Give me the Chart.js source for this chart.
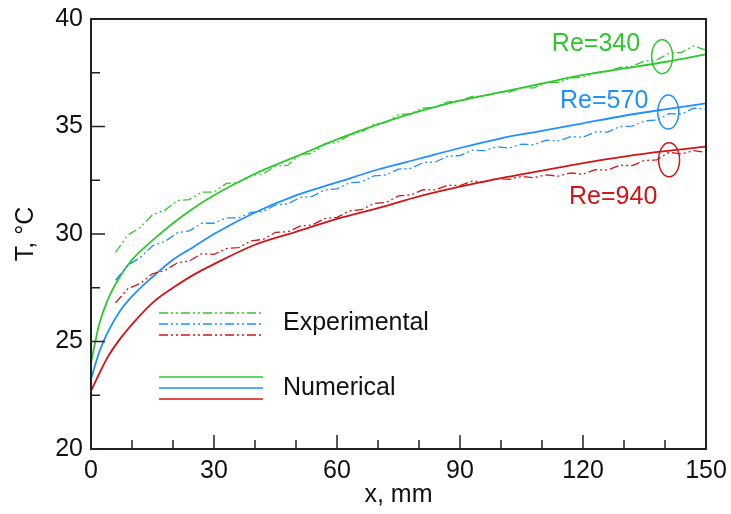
<!DOCTYPE html>
<html lang="en">
<head>
<meta charset="UTF-8">
<title>T vs x</title>
<script src="https://cdn.jsdelivr.net/npm/chart.js@4.4.1/dist/chart.umd.min.js"></script>
<style>
    html, body { margin: 0; padding: 0; background: #fff; }
    #wrap { width: 731px; height: 514px; }
</style>
</head>
<body>
<div id="wrap"><canvas id="chart" width="731" height="514"></canvas></div>
<script>
    // numerical solution, x in mm, T in degC
    const xNum = [0, 1, 2, 4, 7, 10, 15, 20, 25, 30, 40, 50, 60, 70, 80, 90, 100, 110, 120, 130, 140, 150];
    const numRe340 = [24.0, 24.95, 25.8, 26.9, 28.0, 28.8, 29.7, 30.5, 31.2, 31.8, 32.8, 33.6, 34.4, 35.1, 35.7, 36.2, 36.6, 37.0, 37.4, 37.7, 38.0, 38.36];
    const numRe570 = [23.25, 23.9, 24.5, 25.4, 26.4, 27.1, 28.0, 28.8, 29.4, 30.0, 31.0, 31.8, 32.4, 33.0, 33.5, 34.0, 34.45, 34.8, 35.15, 35.5, 35.8, 36.08];
    const numRe940 = [22.7, 23.1, 23.5, 24.25, 25.1, 25.8, 26.8, 27.5, 28.1, 28.6, 29.5, 30.1, 30.7, 31.2, 31.75, 32.2, 32.6, 32.95, 33.3, 33.6, 33.85, 34.06];

    // measured profiles
    const xExp = [6, 9, 12, 15, 18, 21, 24, 27, 30, 33, 36, 39, 42, 45, 48, 51, 54, 57, 60, 63, 66, 69, 72, 75, 78,
                  81, 84, 87, 90, 93, 96, 99, 102, 105, 108, 111, 114, 117, 120, 123, 126, 129, 132, 135, 138, 141, 144, 147, 150];
    const expRe340 = [29.15, 29.95, 30.3, 30.9, 31.1, 31.55, 31.6, 31.95, 31.95, 32.35, 32.4, 32.7, 32.8, 33.15, 33.2, 33.7, 33.75, 34.2, 34.25, 34.6, 34.75, 35.1, 35.2, 35.55, 35.6,
                      35.85, 35.9, 36.15, 36.2, 36.4, 36.4, 36.6, 36.6, 36.8, 36.8, 37.05, 37.05, 37.25, 37.3, 37.5, 37.55, 37.75, 37.8, 38.05, 38.1, 38.4, 38.45, 38.75, 38.55];
    const expRe570 = [27.85, 28.55, 28.9, 29.45, 29.65, 30.05, 30.15, 30.5, 30.5, 30.75, 30.75, 31.0, 31.05, 31.35, 31.4, 31.7, 31.75, 32.05, 32.1, 32.38, 32.42, 32.7, 32.75, 33.02, 33.05,
                      33.32, 33.35, 33.62, 33.65, 33.9, 33.88, 34.06, 34.0, 34.18, 34.15, 34.36, 34.33, 34.53, 34.5, 34.75, 34.74, 35.0, 35.02, 35.26, 35.3, 35.6, 35.58, 35.85, 35.82];
    const expRe940 = [26.8, 27.45, 27.7, 28.15, 28.3, 28.65, 28.75, 29.08, 29.05, 29.32, 29.37, 29.68, 29.75, 30.08, 30.1, 30.37, 30.42, 30.72, 30.77, 31.07, 31.13, 31.42, 31.47, 31.77, 31.82,
                      32.06, 32.05, 32.27, 32.25, 32.46, 32.43, 32.58, 32.54, 32.68, 32.62, 32.75, 32.69, 32.84, 32.78, 32.99, 32.98, 33.2, 33.18, 33.42, 33.45, 33.8, 33.72, 33.88, 33.8];

    const reLabels = ['Re=340', 'Re=570', 'Re=940'];
    const colors = ['#2ec82e', '#1e90ff', '#d01515'];
    // label anchor (left edge, middle) and circled region, in data units
    const labelAt = [[112.4, 38.84], [114.4, 36.17], [116.6, 31.70]];
    const ringAt = [[139.3, 38.25], [140.8, 35.67], [141.0, 33.45]];

    const xTicks = [0, 30, 60, 90, 120, 150];
    const yTicks = [20, 25, 30, 35, 40];

    const FONT = '"Liberation Sans", Arial, sans-serif';
    const dashExp = [9, 3, 2, 3, 2, 3];

    const pts = (xs, ys) => xs.map((x, i) => ({x: x, y: ys[i]}));

    const datasets = [];
    [expRe340, expRe570, expRe940].forEach((ys, i) => {
        datasets.push({
            data: pts(xExp, ys),
            borderColor: colors[i],
            borderWidth: 1.3,
            borderDash: dashExp,
            pointRadius: 0,
            tension: 0
        });
    });
    [numRe340, numRe570, numRe940].forEach((ys, i) => {
        datasets.push({
            data: pts(xNum, ys),
            borderColor: colors[i],
            borderWidth: 1.8,
            pointRadius: 0,
            cubicInterpolationMode: 'monotone'
        });
    });

    // frame, inward tick marks, legend and Re labels
    const decorations = {
        id: 'decorations',
        afterDatasetsDraw(chart) {
            const {ctx, chartArea: a, scales: {x, y}} = chart;
            ctx.save();
            ctx.strokeStyle = '#222';
            ctx.lineWidth = 2;
            ctx.setLineDash([]);
            ctx.strokeRect(a.left, a.top, a.right - a.left, a.bottom - a.top);

            ctx.lineWidth = 1.5;
            ctx.beginPath();
            x.ticks.forEach(t => {
                const px = x.getPixelForValue(t.value);
                const len = xTicks.includes(t.value) ? 14 : 9;
                ctx.moveTo(px, a.bottom);
                ctx.lineTo(px, a.bottom - len);
            });
            y.ticks.forEach(t => {
                const py = y.getPixelForValue(t.value);
                const len = yTicks.includes(t.value) ? 14 : 9;
                ctx.moveTo(a.left, py);
                ctx.lineTo(a.left + len, py);
            });
            ctx.stroke();

            // legend
            const lx0 = a.left + 68, lx1 = a.left + 172;
            const expY = [a.top + 294, a.top + 305, a.top + 316];
            const numY = [a.top + 358, a.top + 369, a.top + 380];
            ctx.lineWidth = 1.5;
            colors.forEach((c, i) => {
                ctx.strokeStyle = c;
                ctx.setLineDash(dashExp);
                ctx.beginPath();
                ctx.moveTo(lx0, expY[i]);
                ctx.lineTo(lx1, expY[i]);
                ctx.stroke();
                ctx.setLineDash([]);
                ctx.beginPath();
                ctx.moveTo(lx0, numY[i]);
                ctx.lineTo(lx1, numY[i]);
                ctx.stroke();
            });
            ctx.fillStyle = '#111';
            ctx.font = '25px ' + FONT;
            ctx.textBaseline = 'middle';
            ctx.textAlign = 'left';
            ctx.fillText('Experimental', a.left + 192, expY[1] - 1);
            ctx.fillText('Numerical', a.left + 192, numY[1]);

            // Re labels and rings
            reLabels.forEach((txt, i) => {
                ctx.fillStyle = colors[i];
                ctx.fillText(txt, x.getPixelForValue(labelAt[i][0]), y.getPixelForValue(labelAt[i][1]));
                ctx.strokeStyle = colors[i];
                ctx.lineWidth = 1.5;
                ctx.beginPath();
                ctx.ellipse(x.getPixelForValue(ringAt[i][0]), y.getPixelForValue(ringAt[i][1]), 10.5, 17, 0, 0, Math.PI * 2);
                ctx.stroke();
            });
            ctx.restore();
        }
    };

    new Chart(document.getElementById('chart'), {
        type: 'line',
        data: {datasets: datasets},
        options: {
            responsive: false,
            animation: false,
            events: [],
            layout: {padding: {top: 19, right: 25, left: 0, bottom: 0}},
            plugins: {legend: {display: false}, tooltip: {enabled: false}},
            scales: {
                x: {
                    type: 'linear',
                    min: 0,
                    max: 150,
                    grid: {display: false},
                    border: {display: false},
                    ticks: {
                        stepSize: 10,
                        autoSkip: false,
                        maxRotation: 0,
                        padding: -1,
                        color: '#111',
                        font: {family: FONT, size: 25},
                        callback: v => xTicks.includes(v) ? String(v) : ''
                    },
                    title: {
                        display: true,
                        text: 'x, mm',
                        color: '#111',
                        font: {family: FONT, size: 25},
                        padding: {top: 0, bottom: 4}
                    },
                    afterFit: s => { s.height = 65; }
                },
                y: {
                    min: 20,
                    max: 40,
                    grid: {display: false},
                    border: {display: false},
                    ticks: {
                        stepSize: 2.5,
                        autoSkip: false,
                        padding: 0,
                        color: '#111',
                        font: {family: FONT, size: 25},
                        callback: v => yTicks.includes(v) ? String(v) : ''
                    },
                    title: {
                        display: true,
                        text: 'T, °C',
                        color: '#111',
                        font: {family: FONT, size: 25},
                        padding: {top: 11, bottom: 0}
                    },
                    afterFit: s => { s.width = 91; }
                }
            }
        },
        plugins: [decorations]
    });
</script>
</body>
</html>
